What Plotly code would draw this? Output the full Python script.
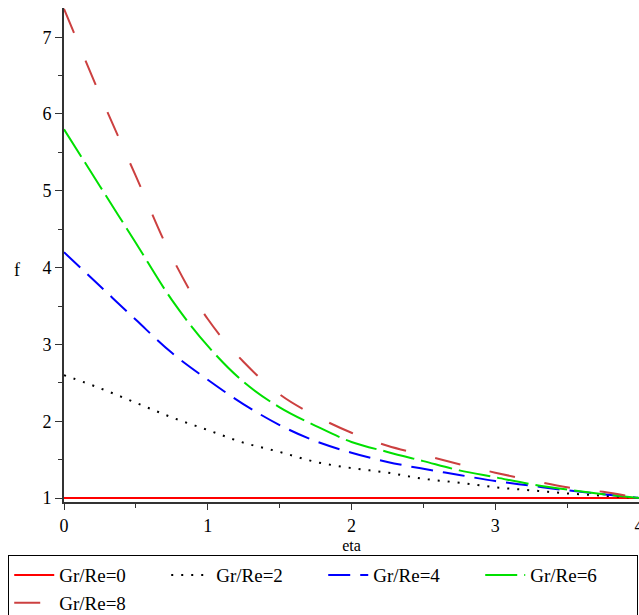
import plotly.graph_objects as go

eta = [0, 0.25, 0.5, 0.75, 1, 1.25, 1.5, 1.75, 2, 2.25, 2.5, 2.75, 3, 3.25, 3.5, 3.75, 4]
f_gr0 = [1.0] * 17
f_gr2 = [2.6, 2.43, 2.24, 2.05, 1.885, 1.72, 1.6, 1.47, 1.39, 1.33, 1.25, 1.2, 1.14, 1.10, 1.06, 1.03, 1.0]
f_gr4 = [4.2, 3.76, 3.32, 2.89, 2.54, 2.22, 1.95, 1.74, 1.59, 1.47, 1.38, 1.30, 1.22, 1.16, 1.10, 1.05, 1.0]
f_gr6 = [5.8, 5.06, 4.32, 3.58, 2.98, 2.51, 2.18, 1.94, 1.73, 1.6, 1.48, 1.36, 1.27, 1.18, 1.11, 1.05, 1.0]
f_gr8 = [7.37, 6.25, 5.19, 4.14, 3.33, 2.77, 2.35, 2.07, 1.85, 1.68, 1.56, 1.44, 1.33, 1.23, 1.14, 1.08, 1.0]

names = ["Gr/Re=0", "Gr/Re=2", "Gr/Re=4", "Gr/Re=6", "Gr/Re=8"]
series = [f_gr0, f_gr2, f_gr4, f_gr6, f_gr8]
colors = ["#ff0000", "#000000", "#0000ff", "#00e000", "#cc4040"]
dashes = ["solid", "2px,8px", "22px,10px", "32px,7px", "26px,30px"]

fig = go.Figure()
for n, s, c, d in zip(names, series, colors, dashes):
    fig.add_trace(go.Scatter(x=eta, y=s, mode="lines", name=n,
                             line=dict(color=c, width=2, dash=d, shape="spline")))

font = "Liberation Serif"
fig.update_layout(
    width=639, height=615,
    margin=dict(l=64, r=0, t=8, b=113, autoexpand=False),
    plot_bgcolor="white", paper_bgcolor="white",
    font=dict(family=font, size=18, color="black"),
    showlegend=True,
    legend=dict(orientation="h", x=-0.097, xanchor="left", y=-0.1075, yanchor="top",
                bordercolor="black", borderwidth=1, font=dict(family=font, size=19),
                entrywidth=102, entrywidthmode="pixels", tracegroupgap=0,
                itemwidth=40),
    xaxis=dict(range=[0, 4], showgrid=False, zeroline=False, automargin=False,
               showline=True, linecolor="#333333", linewidth=2,
               ticks="outside", ticklen=6, tickcolor="#333333", tickwidth=1,
               dtick=1, tick0=0, ticklabeloverflow="allow",
               minor=dict(ticks="outside", ticklen=4, dtick=0.5, tickcolor="#333333"),
               tickfont=dict(family=font, size=18),
               title=dict(text="eta", font=dict(family=font, size=16), standoff=5)),
    yaxis=dict(range=[0.948, 7.38], showgrid=False, zeroline=False, automargin=False,
               showline=True, linecolor="#333333", linewidth=2,
               ticks="outside", ticklen=7, tickcolor="#333333", tickwidth=1,
               dtick=1, tick0=0,
               minor=dict(ticks="outside", ticklen=4, dtick=0.5, tickcolor="#333333"),
               tickfont=dict(family=font, size=18)),
    annotations=[dict(text="f", xref="paper", yref="paper", x=-0.09, y=0.47,
                      showarrow=False, font=dict(family=font, size=18))],
)

fig.write_html("out.html", config={"displayModeBar": False},
               post_script="document.body.style.margin='0';document.body.style.overflow='hidden';")
